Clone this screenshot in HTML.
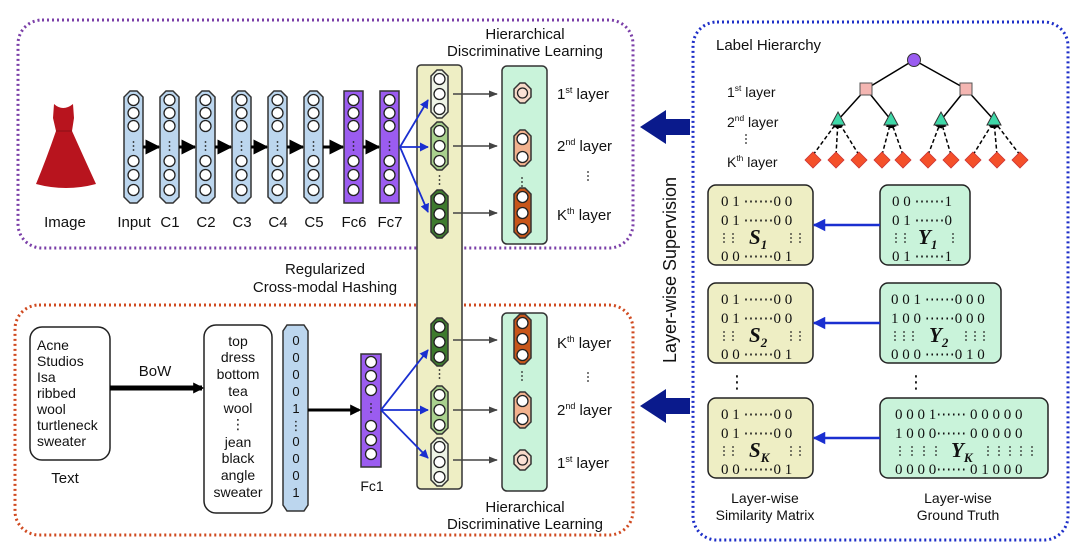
<!DOCTYPE html>
<html><head><meta charset="utf-8"><style>
html,body{margin:0;padding:0;background:#fff;}
svg{display:block;}
text{font-family:"Liberation Sans","DejaVu Sans",sans-serif;fill:#111;white-space:pre;}
.mono{font-family:"Liberation Serif",serif;}
</style></head><body>
<svg id="s" width="1080" height="557" viewBox="0 0 1080 557" xmlns="http://www.w3.org/2000/svg">
<defs>
<marker id="ab" viewBox="0 0 10 10" refX="9" refY="5" markerWidth="5" markerHeight="5" orient="auto"><path d="M0,0L10,5L0,10z" fill="#000"/></marker>
<marker id="ag" viewBox="0 0 10 10" refX="9" refY="5" markerWidth="6" markerHeight="6" orient="auto"><path d="M0,1L10,5L0,9z" fill="#444"/></marker>
<marker id="abl" viewBox="0 0 10 10" refX="9" refY="5" markerWidth="5" markerHeight="5" orient="auto"><path d="M0,0L10,5L0,10z" fill="#1a2fd0"/></marker>
<marker id="ad" viewBox="0 0 10 10" refX="8" refY="5" markerUnits="userSpaceOnUse" markerWidth="11" markerHeight="13" orient="auto"><path d="M0,0L10,5L0,10z" fill="#000"/></marker>
</defs>
<rect x="18" y="20" width="615" height="228" rx="24" fill="none" stroke="#7b3fa8" stroke-width="3" stroke-dasharray="2 3"/>
<rect x="15" y="305" width="618" height="230" rx="24" fill="none" stroke="#d04a20" stroke-width="3" stroke-dasharray="2 3"/>
<rect x="693" y="22" width="375" height="518" rx="24" fill="none" stroke="#1e2fc8" stroke-width="3" stroke-dasharray="2 3"/>
<rect x="417" y="65" width="45" height="424" rx="4" fill="#eeeec4" stroke="#333" stroke-width="1.5"/>
<rect x="502" y="66" width="45" height="178" rx="5" fill="#c9f3da" stroke="#333" stroke-width="1.5"/>
<rect x="502" y="313" width="45" height="178" rx="5" fill="#c9f3da" stroke="#333" stroke-width="1.5"/>
<path d="M54,104 Q63,112 73,104 L74,118 L72,131 Q85,160 96,184 Q66,192 36,184 Q46,160 56,131 L53,118 Z" fill="#b8141e"/>
<path d="M56,131 L72,131" stroke="#8a0f16" stroke-width="1"/>
<g id="g"></g>
<text x="65" y="227" font-size="15" text-anchor="middle">Image</text>
<text x="525" y="39" font-size="15" text-anchor="middle">Hierarchical</text>
<text x="525" y="56" font-size="15" text-anchor="middle">Discriminative Learning</text>
<text x="325" y="274" font-size="15" text-anchor="middle">Regularized</text>
<text x="325" y="292" font-size="15" text-anchor="middle">Cross-modal Hashing</text>
<text x="525" y="512" font-size="15" text-anchor="middle">Hierarchical</text>
<text x="525" y="529" font-size="15" text-anchor="middle">Discriminative Learning</text>
<text x="716" y="50" font-size="15">Label Hierarchy</text>
<text transform="translate(676,270) rotate(-90)" font-size="18" text-anchor="middle">Layer-wise Supervision</text>
<path d="M690,119 L666,119 L666,110 L640,127 L666,144 L666,135 L690,135 Z" fill="#0a1a8c"/>
<path d="M690,398 L666,398 L666,389 L640,406 L666,423 L666,414 L690,414 Z" fill="#0a1a8c"/>
<rect x="30" y="327" width="80" height="133" rx="12" fill="#fff" stroke="#222" stroke-width="1.5"/>
<g font-size="14"><text x="37" y="350">Acne</text><text x="37" y="366">Studios</text><text x="37" y="382">Isa</text><text x="37" y="398">ribbed</text><text x="37" y="414">wool</text><text x="37" y="430">turtleneck</text><text x="37" y="446">sweater</text></g>
<text x="65" y="483" font-size="15" text-anchor="middle">Text</text>
<line x1="110" y1="388" x2="202" y2="388" stroke="#000" stroke-width="5" marker-end="url(#ad)"/>
<text x="155" y="376" font-size="15" text-anchor="middle">BoW</text>
<rect x="204" y="325" width="68" height="188" rx="12" fill="#fff" stroke="#222" stroke-width="1.5"/>
<g font-size="14" text-anchor="middle"><text x="238" y="346">top</text><text x="238" y="362">dress</text><text x="238" y="379">bottom</text><text x="238" y="396">tea</text><text x="238" y="413">wool</text><text x="238" y="429">⋮</text><text x="238" y="447">jean</text><text x="238" y="463">black</text><text x="238" y="480">angle</text><text x="238" y="497">sweater</text></g>
<path d="M287,325 L304,325 L308,331 L308,505 L304,511 L287,511 L283,505 L283,331 Z" fill="#bcd6ee" stroke="#333" stroke-width="1.5"/>
<g font-size="13" text-anchor="middle"><text x="296" y="345">0</text><text x="296" y="362">0</text><text x="296" y="379">0</text><text x="296" y="396">0</text><text x="296" y="413">1</text><text x="296" y="430">⋮</text><text x="296" y="446">0</text><text x="296" y="463">0</text><text x="296" y="480">0</text><text x="296" y="497">1</text></g>
<line x1="308" y1="410" x2="359" y2="410" stroke="#000" stroke-width="3" marker-end="url(#ad)"/>
<text x="372" y="491" font-size="14" text-anchor="middle">Fc1</text>
</svg>
<script>
var g=document.getElementById('g'),NS='http://www.w3.org/2000/svg';
function el(t,a,txt){var e=document.createElementNS(NS,t);for(var k in a)e.setAttribute(k,a[k]);if(txt!=null)e.textContent=txt;g.appendChild(e);return e;}
function oct(x,y,w,h,fill){var c=6;el('path',{d:'M'+(x+c)+','+y+'L'+(x+w-c)+','+y+'L'+(x+w)+','+(y+c)+'L'+(x+w)+','+(y+h-c)+'L'+(x+w-c)+','+(y+h)+'L'+(x+c)+','+(y+h)+'L'+x+','+(y+h-c)+'L'+x+','+(y+c)+'Z',fill:fill,stroke:'#333','stroke-width':1.5});}
function circ(x,y,r,f){el('circle',{cx:x,cy:y,r:r,fill:f||'#fff',stroke:'#222','stroke-width':1.3});}
function vdots(x,y){for(var i=-1;i<=1;i++)el('circle',{cx:x,cy:y+i*4,r:0.9,fill:'#222'});}
var xs=[124,160,196,232,268,304,344,380],labs=['Input','C1','C2','C3','C4','C5','Fc6','Fc7'];
xs.forEach(function(x,i){var pur=i>=6;
 if(pur)el('rect',{x:x,y:91,width:19,height:112,fill:'#9b5cf0',stroke:'#333','stroke-width':1.5});else oct(x,91,19,112,'#bcd6ee');
 [100,113,126,161,175,190].forEach(function(y){circ(x+9.5,y,5.5);});vdots(x+9.5,146);
 el('text',{x:x+10,y:227,'font-size':15,'text-anchor':'middle'},labs[i]);
 if(i<7)el('line',{x1:x+19,y1:147,x2:xs[i+1]-1,y2:147,stroke:'#000','stroke-width':3,'marker-end':'url(#ab)'});
});
el('rect',{x:361,y:354,width:20,height:113,fill:'#9b5cf0',stroke:'#333','stroke-width':1.5});
[362,376,390,426,440,454].forEach(function(y){circ(371,y,5.5);});vdots(371,408);
[100,147,212].forEach(function(t){el('line',{x1:400,y1:147,x2:428,y2:t,stroke:'#1a2fd0','stroke-width':1.8,'marker-end':'url(#abl)'});});
[350,410,458].forEach(function(t){el('line',{x1:381,y1:410,x2:428,y2:t,stroke:'#1a2fd0','stroke-width':1.8,'marker-end':'url(#abl)'});});
function sub(y,f){oct(431,y,17,48,f);[y+9,y+24,y+39].forEach(function(cy){circ(439.5,cy,5.5);});}
sub(70,'#eef4e6');sub(122,'#a9d18e');sub(190,'#3e7a2e');vdots(439.5,180);
sub(318,'#3e7a2e');sub(386,'#a9d18e');sub(438,'#eef4e6');vdots(439.5,374);
[94,146,213,340,410,460].forEach(function(y){el('line',{x1:453,y1:y,x2:497,y2:y,stroke:'#444','stroke-width':1.5,'marker-end':'url(#ag)'});});
function gitem(cy,n,f){var h=n==1?20:(n==2?36:50);var y=cy-h/2;oct(514,y,17,h,f);if(n==1)circ(522.5,cy,5,'#fbe2d6');else{for(var i=0;i<n;i++)circ(522.5,y+9+i*((h-18)/(n-1)),5.5);}}
gitem(93,1,'#f7d9c8');gitem(148,2,'#f2b28e');gitem(213,3,'#c8561a');vdots(522,182);
gitem(339,3,'#c8561a');gitem(410,2,'#f2b28e');gitem(460,1,'#f7d9c8');vdots(522,376);
function lay(x,y,a,b,fs){var t=el('text',{x:x,y:y,'font-size':fs||15});var s1=document.createElementNS(NS,'tspan');s1.textContent=a;t.appendChild(s1);var s2=document.createElementNS(NS,'tspan');s2.setAttribute('font-size',(fs||15)*0.6);s2.setAttribute('dy',-6);s2.textContent=b;t.appendChild(s2);var s3=document.createElementNS(NS,'tspan');s3.setAttribute('dy',6);s3.textContent=' layer';t.appendChild(s3);}
lay(557,99,'1','st');lay(557,151,'2','nd');lay(557,220,'K','th');vdots(588,176);
lay(557,348,'K','th');vdots(588,377);lay(557,415,'2','nd');lay(557,468,'1','st');
lay(727,97,'1','st',14);lay(727,127,'2','nd',14);vdots(746,139);lay(727,167,'K','th',14);
var sq=[866,966],tr=[838,891,941,994],dm=[813,836,859,882,903,928,951,973,997,1020];
sq.forEach(function(x){el('line',{x1:914,y1:60,x2:x,y2:89,stroke:'#000','stroke-width':1.5});});
[[866,838],[866,891],[966,941],[966,994]].forEach(function(p){el('line',{x1:p[0],y1:89,x2:p[1],y2:120,stroke:'#000','stroke-width':1.5});});
var map=[[0,0],[0,1],[0,2],[1,3],[1,4],[2,5],[2,6],[3,7],[3,8],[3,9]];
map.forEach(function(m){el('line',{x1:dm[m[1]],y1:155,x2:tr[m[0]],y2:121,stroke:'#000','stroke-width':1.5,'stroke-dasharray':'4 2.5','marker-end':'url(#ab)'});});
el('circle',{cx:914,cy:60,r:6.5,fill:'#9a5cf0',stroke:'#333','stroke-width':1});
sq.forEach(function(x){el('rect',{x:x-6,y:83,width:12,height:12,fill:'#f4b6b2',stroke:'#555','stroke-width':1});});
tr.forEach(function(x){el('path',{d:'M'+x+',112L'+(x+7)+',125L'+(x-7)+',125Z',fill:'#3fd8a8',stroke:'#333','stroke-width':1});});
dm.forEach(function(x){el('path',{d:'M'+x+',152L'+(x+8)+',160L'+x+',168L'+(x-8)+',160Z',fill:'#f4502a',stroke:'#c33','stroke-width':0.8});});
function mat(x,y,w,fill,rows,tx,dots,sym,sub,sx){
 el('rect',{x:x,y:y,width:w,height:80,rx:8,fill:fill,stroke:'#222','stroke-width':1.5});
 var ys=[y+21,y+40,y+76];
 rows.forEach(function(r,i){el('text',{x:tx,y:ys[i],'font-size':15,'class':'mono',fill:'#222'},r);});
 dots.forEach(function(dx){vdots(dx,y+53);});
 var t=el('text',{x:sx,y:y+59,'font-size':21,'font-weight':'bold','font-style':'italic','class':'mono'},sym);var s=document.createElementNS(NS,'tspan');s.setAttribute('font-size',13);s.setAttribute('dy',5);s.textContent=sub;t.appendChild(s);}
function sm(y,sub){mat(708,y,105,'#eeeec4',['0 1 ⋯⋯0 0','0 1 ⋯⋯0 0','0 0 ⋯⋯0 1'],721,[724,733,791,800],'S',sub,749);}
sm(185,'1');sm(283,'2');sm(398,'K');
mat(880,185,90,'#c9f3da',['0 0 ⋯⋯1','0 1 ⋯⋯0','0 1 ⋯⋯1'],892,[896,905,953],'Y','1',918);
mat(880,283,121,'#c9f3da',['0 0 1 ⋯⋯0 0 0','1 0 0 ⋯⋯0 0 0','0 0 0 ⋯⋯0 1 0'],891,[895,904,913,966,975,984],'Y','2',929);
mat(880,398,168,'#c9f3da',['0 0 0 1⋯⋯ 0 0 0 0 0','1 0 0 0⋯⋯ 0 0 0 0 0','0 0 0 0⋯⋯ 0 1 0 0 0'],895,[900,912,924,936,988,999,1010,1021,1032],'Y','K',951);
[225,323,438].forEach(function(y){el('line',{x1:880,y1:y,x2:814,y2:y,stroke:'#1a2fd0','stroke-width':2.5,'marker-end':'url(#abl)'});});
el('text',{x:737,y:388,'font-size':18,'text-anchor':'middle'},'⋮');el('text',{x:916,y:388,'font-size':18,'text-anchor':'middle'},'⋮');
el('text',{x:765,y:503,'font-size':14,'text-anchor':'middle'},'Layer-wise');el('text',{x:765,y:520,'font-size':14,'text-anchor':'middle'},'Similarity Matrix');
el('text',{x:958,y:503,'font-size':14,'text-anchor':'middle'},'Layer-wise');el('text',{x:958,y:520,'font-size':14,'text-anchor':'middle'},'Ground Truth');
</script>
</body></html>
